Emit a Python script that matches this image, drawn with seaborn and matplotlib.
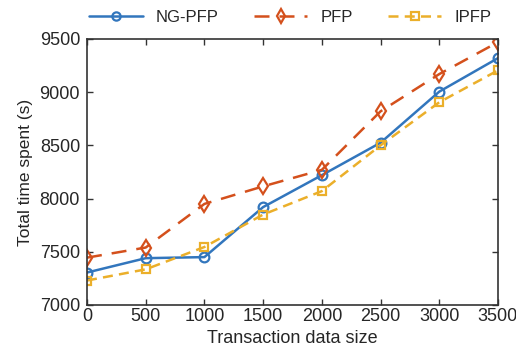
import pandas as pd
import seaborn as sns
import matplotlib.pyplot as plt

sizes = [0, 500, 1000, 1500, 2000, 2500, 3000, 3500]
ng_pfp = [7305, 7440, 7450, 7920, 8220, 8525, 9005, 9320]
pfp = [7445, 7540, 7950, 8115, 8270, 8820, 9170, 9470]
ipfp = [7230, 7335, 7545, 7850, 8070, 8500, 8905, 9205]
names = ['NG-PFP', 'PFP', 'IPFP']

sns.set_style("white")
plt.rcParams['font.family'] = ['Liberation Sans', 'DejaVu Sans']

df = pd.DataFrame({'size': sizes * 3,
                   'time': ng_pfp + pfp + ipfp,
                   'method': [n for n in names for _ in sizes]})

fig = plt.figure(figsize=(5.16, 3.5), dpi=100)
ax = fig.add_axes([0.1686, 0.1286, 0.7964, 0.76])

styles = {
    'NG-PFP': dict(color='#3276BD', linestyle='-', marker='o', markersize=7),
    'PFP': dict(color='#D4501C', linestyle=(0, (6, 4)), marker='d', markersize=8),
    'IPFP': dict(color='#EBAF2A', linestyle=(0, (4, 2.5)), marker='s', markersize=6),
}
for name in names:
    st = styles[name]
    sns.lineplot(data=df[df['method'] == name], x='size', y='time', ax=ax,
                 label=name, color=st['color'], linestyle=st['linestyle'],
                 marker=st['marker'], markersize=st['markersize'],
                 markerfacecolor='none', markeredgecolor=st['color'],
                 markeredgewidth=1.6, linewidth=1.8)

ax.set_xlim(0, 3500)
ax.set_ylim(7000, 9500)
ax.set_xticks(sizes)
ax.set_yticks([7000, 7500, 8000, 8500, 9000, 9500])
ax.tick_params(direction='in', bottom=True, left=True, top=True, right=True,
               length=4, width=1, labelsize=13, color='#333333', pad=2)
ax.tick_params(axis='y', pad=5)
for s in ax.spines.values():
    s.set_color('#333333')
    s.set_linewidth(1.2)
ax.set_xlabel('Transaction data size', fontsize=13, labelpad=4)
ax.set_ylabel('Total time spent (s)', fontsize=12.5, labelpad=5)

ax.get_legend().remove()
h, l = ax.get_legend_handles_labels()
fig.legend(h, l, ncol=3, loc='center', bbox_to_anchor=(0.563, 0.95),
           frameon=False, fontsize=12, handlelength=3.2, columnspacing=2.1,
           markerscale=0.85)

fig.savefig('out.png', dpi=100)
